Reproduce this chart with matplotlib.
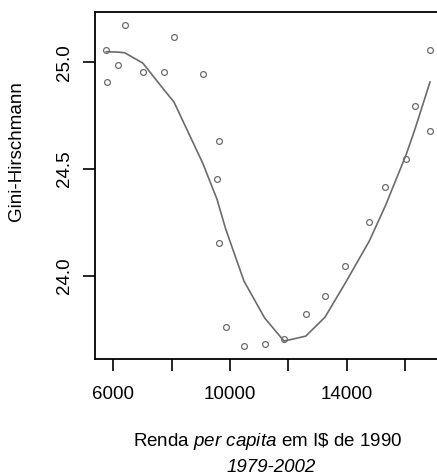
import matplotlib
matplotlib.use("Agg")
from matplotlib import pyplot as plt

# renda per capita (I$ de 1990) e indice Gini-Hirschmann, 1979-2002
renda = [5760, 6391, 6171, 5794, 7008, 8081, 7748, 9065, 9613, 9565, 9613, 9853,
         10480, 11190, 11852, 12596, 13257, 13953, 14776, 15324, 16034, 16353, 16857, 16857]
gini = [25.056, 25.176, 24.987, 24.906, 24.953, 25.117, 24.953, 24.944, 24.633, 24.453,
        24.153, 23.761, 23.669, 23.680, 23.703, 23.822, 23.905, 24.045, 24.252, 24.416,
        24.545, 24.795, 24.677, 25.056]

# curva suavizada
curva_x = [5760, 5794, 6171, 6391, 7008, 7748, 8081, 9065, 9565, 9613, 9853, 10480,
           11190, 11852, 12596, 13257, 13953, 14776, 15324, 16034, 16353, 16857]
curva_y = [25.050, 25.050, 25.048, 25.045, 24.997, 24.870, 24.814, 24.528, 24.355,
           24.331, 24.219, 23.975, 23.802, 23.694, 23.717, 23.806, 23.966, 24.163,
           24.327, 24.566, 24.692, 24.908]

xticks = [6000, 8000, 10000, 12000, 14000, 16000]
xticklabels = ["6000", "", "10000", "", "14000", ""]
yticks = [24.0, 24.5, 25.0]

plt.rcParams["font.family"] = "Liberation Sans"
plt.rcParams["mathtext.fontset"] = "custom"
plt.rcParams["mathtext.it"] = "Liberation Sans:italic"
plt.rcParams["mathtext.rm"] = "Liberation Sans"

cinza = "#6b6b6b"
fig = plt.figure(figsize=(4.37, 4.76), dpi=100)
ax = fig.add_axes([95/437, 117/476, 345/437, 347/476])

ax.plot(renda, gini, "o", mfc="none", mec=cinza, ms=4.2, mew=0.9)
ax.plot(curva_x, curva_y, "-", color=cinza, lw=1.2)

ax.set_xlim(5373, 17199)
ax.set_ylim(23.610, 25.236)
ax.set_xticks(xticks)
ax.set_xticklabels(xticklabels)
ax.set_yticks(yticks)
ax.set_yticklabels(["24.0", "24.5", "25.0"], rotation=90, va="center")

ax.tick_params(axis="both", length=8.5, width=1.2, labelsize=13.5, colors="black")
ax.tick_params(axis="x", pad=11)
ax.tick_params(axis="y", pad=7)
for s in ax.spines.values():
    s.set_linewidth(1.3)
ax.spines["right"].set_visible(False)

fig.text(17/437, 1 - 151/476, "Gini-Hirschmann", rotation=90, ha="center", va="center", fontsize=13.5)
fig.text(268/437, 1 - 442/476, r"Renda $\it{per\ capita}$ em I\$ de 1990", ha="center", va="center", fontsize=13.5)
fig.text(271/437, 1 - 467/476, "1979-2002", style="italic", ha="center", va="center", fontsize=13.5)

fig.savefig("out.png", dpi=100)
